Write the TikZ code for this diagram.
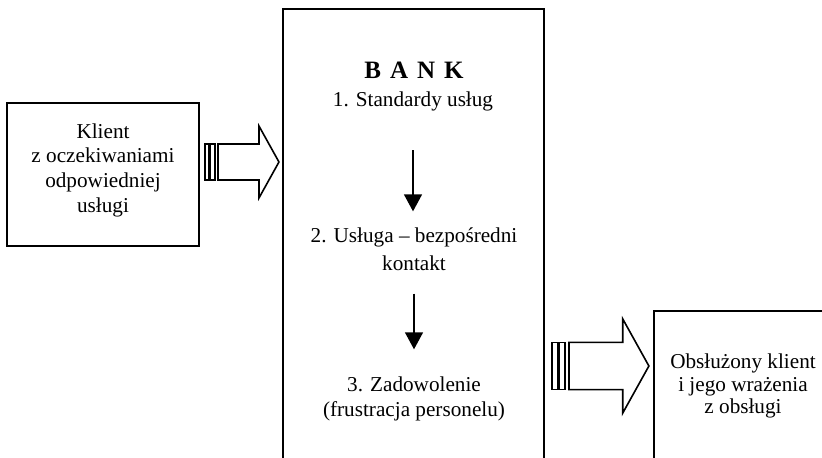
\documentclass[tikz,border=0pt]{standalone}
\usepackage{fontspec}
\setmainfont{Liberation Serif}
\usetikzlibrary{arrows.meta}

\begin{document}
\begin{tikzpicture}[x=0.5pt, y=-0.5pt,
    box/.style={draw, line width=0.95pt, inner sep=0pt},
    txt/.style={inner sep=0pt, align=center},
    flow/.style={line width=0.7pt, -{Triangle[length=8.5pt,width=9pt]}},
    pics/stripedarrow/.style={code={
        \draw[line width=0.7pt] (0,-18) rectangle (4,18);
        \draw[line width=0.7pt] (5.5,-18) rectangle (10,18);
        \draw[line width=0.8pt] (13,-18) -- (54,-18) -- (54,-36) -- (74,0)
            -- (54,36) -- (54,18) -- (13,18) -- cycle;
    }}]
  \clip (0,0) rectangle (822,457);
  % boxes
  \node[box, minimum width=96pt, minimum height=71.5pt] (klient) at (103,174.5) {};
  \node[box, minimum width=130.5pt, minimum height=255.5pt] (bank) at (413.5,264.5) {};
  \node[box, minimum width=123pt, minimum height=104.5pt] (wynik) at (777,415.5) {};
  % texts
  \node[txt, font=\fontsize{10.6}{12.35}\selectfont] (klienttxt) at (103,170)
      {Klient\\z oczekiwaniami\\odpowiedniej\\usługi};
  \node[txt, anchor=base, font=\bfseries\fontsize{12.5}{14}\selectfont] (title) at (414,78)
      {\spaceskip=4.5pt B A N K};
  \node[txt, anchor=base, font=\fontsize{10.6}{12.5}\selectfont] (std) at (413,106)
      {1. Standardy usług};
  \node[txt, font=\fontsize{10.6}{14}\selectfont] (usl) at (414,249)
      {2. Usługa – bezpośredni\\kontakt};
  \node[txt, font=\fontsize{10.6}{12.5}\selectfont] (zad) at (414,399)
      {3. Zadowolenie\\(frustracja personelu)};
  \node[txt, font=\fontsize{10.6}{11.25}\selectfont] (wyniktxt) at (743,386)
      {Obsłużony klient\\i jego wrażenia\\z obsługi};
  % flow inside the bank
  \draw[flow, shorten <=19.7pt, shorten >=7.9pt] (std.south) -- (std.south |- usl.north);
  \draw[flow, shorten <=11.4pt, shorten >=13.6pt] (usl.south) -- (usl.south |- zad.north);
  % block arrows
  \pic at ([xshift=2.5pt, yshift=6.25pt]klient.east) {stripedarrow};
  \pic[scale=1.31] at ([xshift=3.5pt, yshift=-50.75pt]bank.east) {stripedarrow};
\end{tikzpicture}
\end{document}
